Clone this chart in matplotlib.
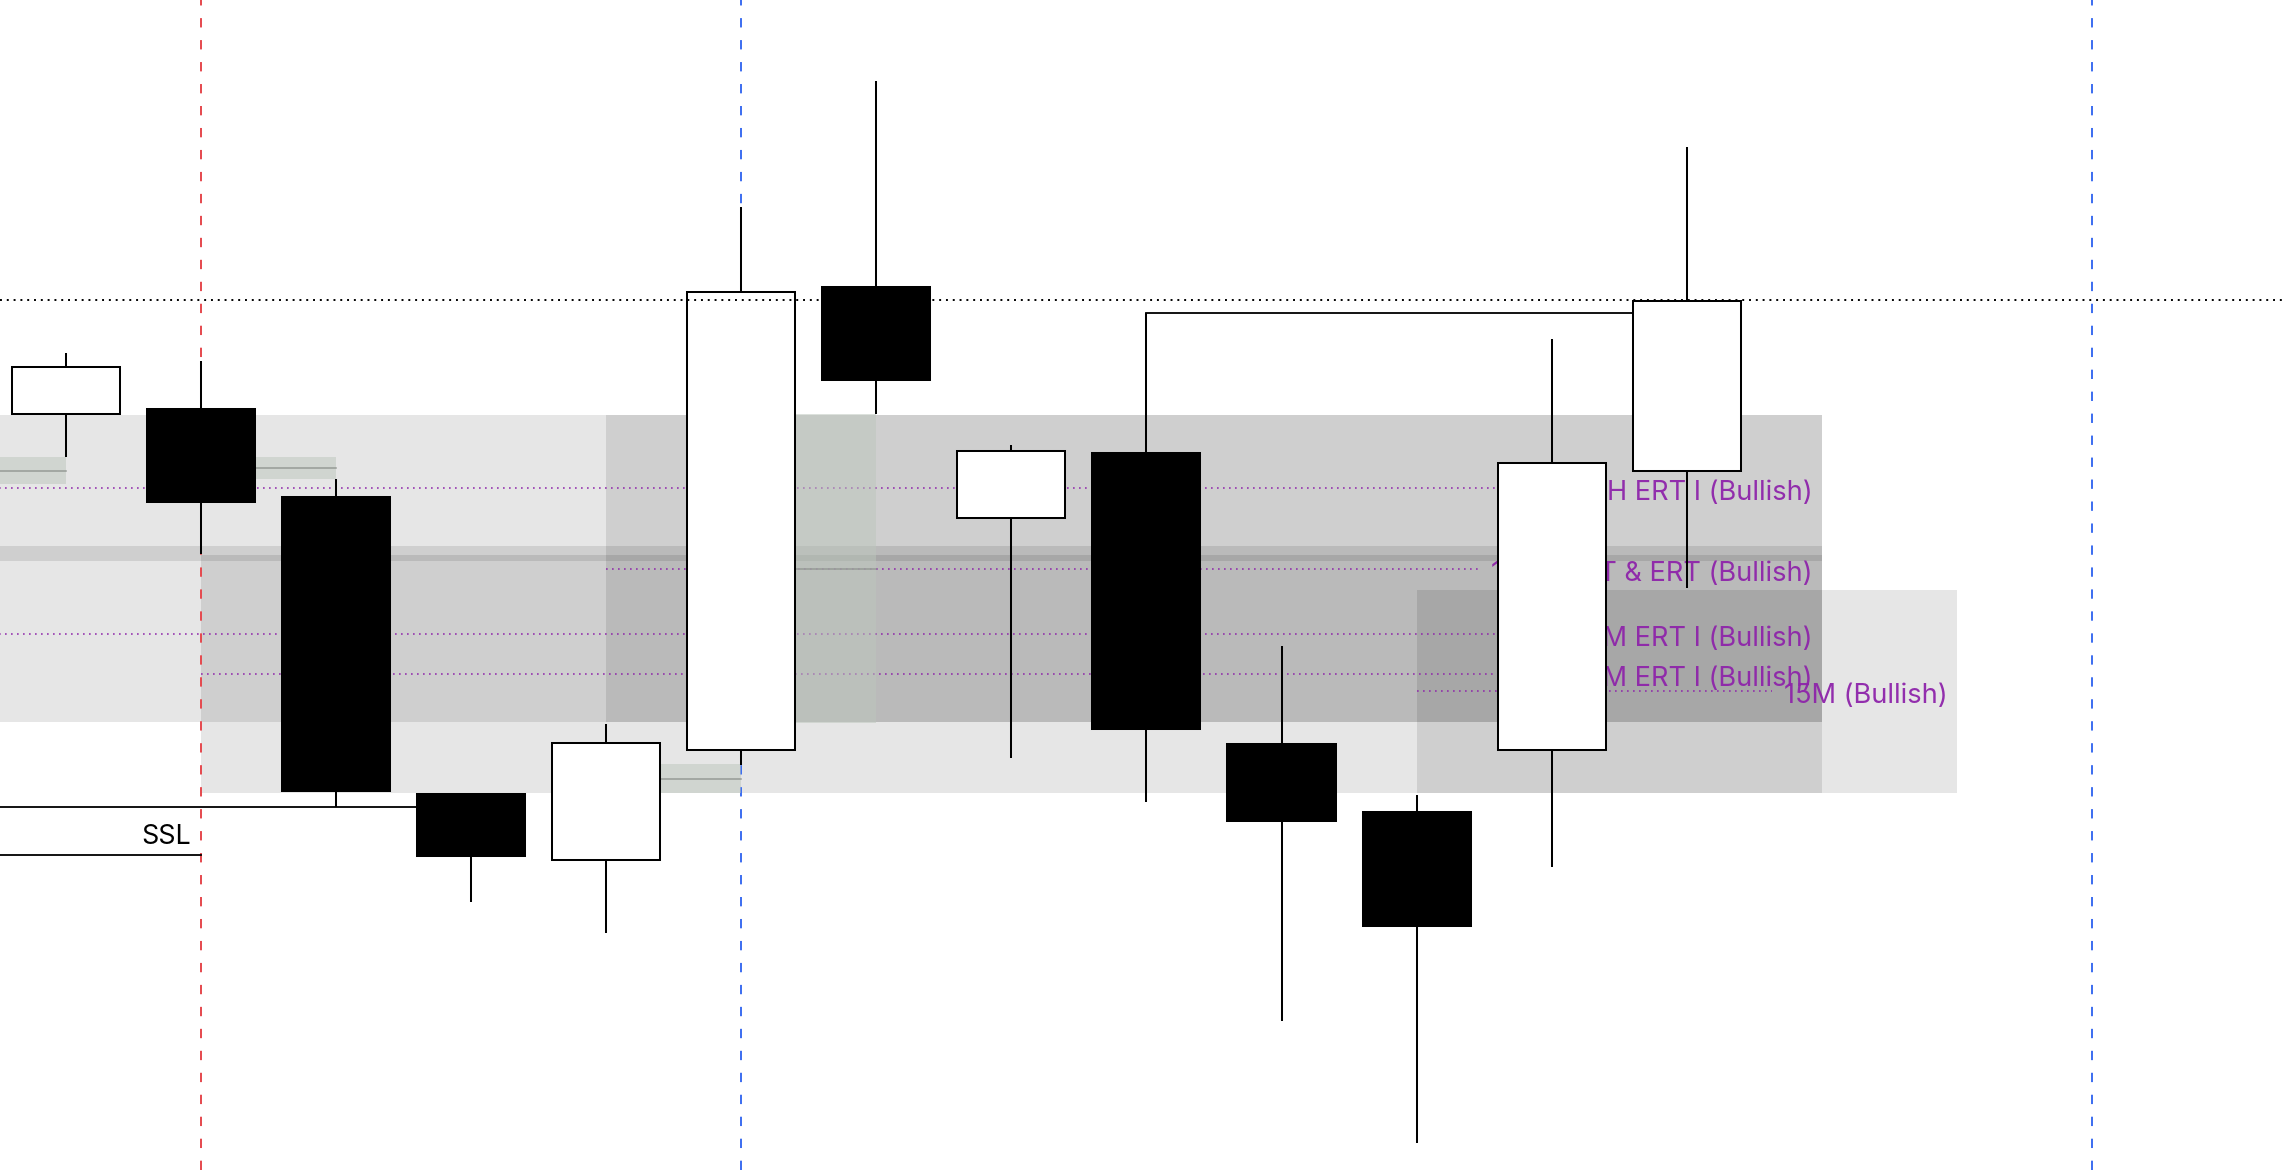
import matplotlib
matplotlib.use("Agg")
import matplotlib.pyplot as plt
from matplotlib.patches import Rectangle

plt.rcParams['font.family'] = ['Inter', 'DejaVu Sans']

# ---------------- data (price units) ----------------
idx = list(range(13))
opens  = [755.8, 761.1, 673.0, 376.0, 310.4, 420.1, 883.0, 652.4, 716.6, 426.5, 358.0, 420.0, 699.3]
highs  = [817.3, 809.3, 691.0, 376.0, 446.1, 962.7, 1089.0, 725.3, 857.3, 524.1, 375.4, 830.7, 1022.7]
lows   = [713.0, 616.2, 363.0, 267.6, 237.0, 405.0, 756.0, 411.9, 368.2, 149.5, 27.0, 302.6, 581.7]
closes = [803.5, 668.1, 379.5, 314.0, 427.2, 878.3, 790.3, 719.5, 441.0, 349.2, 244.2, 707.3, 869.3]

# gray zones: (x_start, x_end, low, high)
zone_x0 = [-1, -1, 1, 4, 10]
zone_x1 = [13, 13, 13, 13, 14]
zone_lo = [448.0, 609.2, 377.3, 448.0, 377.3]
zone_hi = [755.1, 624.0, 615.2, 755.1, 580.0]

# greenish gaps: (x_start, x_end, low, high, mid)
gap_x0 = [-1, 1, 4, 5]
gap_x1 = [0, 2, 5, 6]
gap_lo = [686.3, 691.0, 376.7, 446.7]
gap_hi = [713.0, 713.0, 406.0, 756.0]
gap_mid = [699.0, 702.3, 391.0, 601.0]

# purple levels
lvl_price = [682.3, 601.0, 536.0, 496.0, 479.3]
lvl_start = [-1, 4, -1, 1, 10]
lvl_label_x = [13, 13, 13, 13, 14]
lvl_labels = ["1H ERT I (Bullish)", "15M iSMT & ERT (Bullish)", "15M ERT I (Bullish)",
              "5M ERT I (Bullish)", "15M (Bullish)"]

ref_level = 870.0            # black dotted line
bsl_price, bsl_from, bsl_to = 857.3, 8, 12
ssl_upper, ssl_upper_to = 363.0, 3
ssl_lower, ssl_lower_to = 315.0, 1
ssl_text = "SSL"

red_vlines = [1]
blue_vlines = [5, 15]

# ---------------- figure ----------------
W, H, DPI = 2286, 1170, 100
fig = plt.figure(figsize=(W / DPI, H / DPI), dpi=DPI)
ax = fig.add_axes([0, 0, 1, 1])
ax.set_xlim(-0.4856, 16.435)
ax.set_ylim(0, 1170)
ax.axis('off')

px_x = (16.435 + 0.4856) / W   # data units per pixel (x)
px_y = 1170 / H

# gray zones
for x0, x1, lo, hi in zip(zone_x0, zone_x1, zone_lo, zone_hi):
    ax.add_patch(Rectangle((x0, lo), x1 - x0, hi - lo, facecolor='black',
                           alpha=0.098, edgecolor='none', zorder=1))

# purple levels + labels
purple = '#8e24aa'
renderer = fig.canvas.get_renderer()
for p, xs, lx, lab in zip(lvl_price, lvl_start, lvl_label_x, lvl_labels):
    t = ax.text(lx - 9 * px_x, p - 12.3 * px_y, lab, ha='right', va='baseline',
                fontsize=19.6, color=purple, alpha=0.95, zorder=2.2)
    bb = t.get_window_extent(renderer)
    x_text = ax.transData.inverted().transform((bb.x0, 0))[0]
    ax.plot([xs, x_text - 12 * px_x], [p, p], color=purple, lw=1.2,
            linestyle=(0, (1, 2.6)), alpha=0.9, zorder=2)

# vertical dashed lines
for v in red_vlines:
    ax.axvline(v, color='#e5484d', lw=1.4, linestyle=(0, (4.8, 6.5)), zorder=2.5)
for v in blue_vlines:
    ax.axvline(v, color='#3b6cf0', lw=1.4, linestyle=(0, (4.8, 6.5)), zorder=2.5)

# greenish gaps
for x0, x1, lo, hi, m in zip(gap_x0, gap_x1, gap_lo, gap_hi, gap_mid):
    ax.add_patch(Rectangle((x0, lo), x1 - x0, hi - lo, facecolor=(188/255, 198/255, 188/255),
                           alpha=0.52, edgecolor='none', zorder=3))
    ax.plot([x0, x1], [m, m], color='#969b96', lw=1.1, zorder=3.1)

# liquidity lines
ax.plot([-1, ssl_upper_to], [ssl_upper, ssl_upper], color='black', lw=1.3, zorder=3.5)
ax.plot([-1, ssl_lower_to], [ssl_lower, ssl_lower], color='black', lw=1.3, zorder=3.5)
ax.text(ssl_lower_to - 10 * px_x, 1170 - 844, ssl_text, ha='right', va='baseline',
        fontsize=19.4, color='black', zorder=3.5)
ax.plot([bsl_from, bsl_to], [bsl_price, bsl_price], color='black', lw=1.3, zorder=3.5)

# candles
bw = 0.8
for i, o, h, l, c in zip(idx, opens, highs, lows, closes):
    ax.plot([i, i], [l, h], color='black', lw=1.45, zorder=4, solid_capstyle='butt')
    bull = c >= o
    ax.add_patch(Rectangle((i - bw / 2, min(o, c)), bw, abs(c - o),
                           facecolor='white' if bull else 'black',
                           edgecolor='black', lw=1.45, zorder=5))

# black dotted reference line
ax.axhline(ref_level, color='black', lw=1.4, linestyle=(0, (1, 2.5)), zorder=6)

fig.savefig('out.png', dpi=DPI, facecolor='white')
